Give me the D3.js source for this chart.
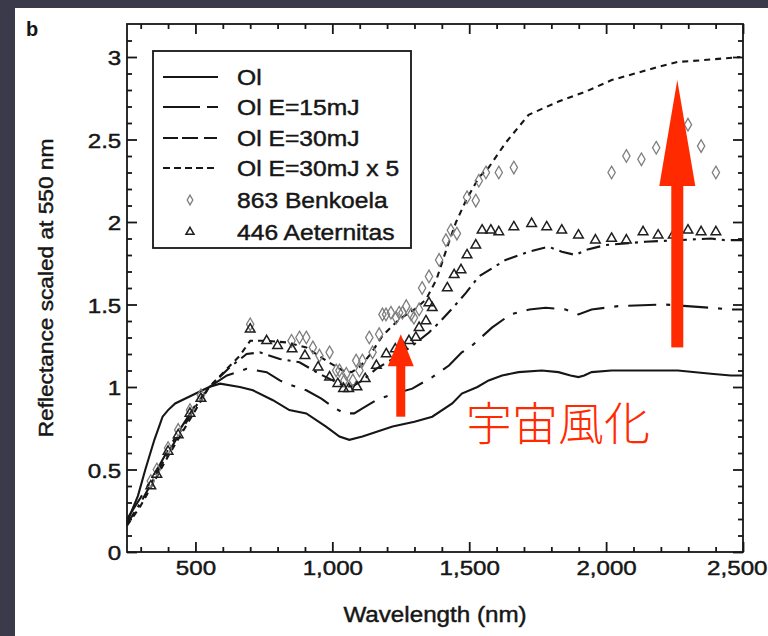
<!DOCTYPE html>
<html><head><meta charset="utf-8">
<script src="https://cdn.jsdelivr.net/npm/d3@7"></script>
<style>html,body{margin:0;padding:0;background:#3b3a4b;}svg{display:block;}</style>
</head><body>
<svg id="chart" width="768" height="636"></svg>
<script>
// ---------------- data ----------------
const xTickValues = [500, 1000, 1500, 2000, 2500];
const yTickValues = [0, 0.5, 1, 1.5, 2, 2.5, 3];
const legendLabels = ["Ol", "Ol E=15mJ", "Ol E=30mJ", "Ol E=30mJ x 5", "863 Benkoela", "446 Aeternitas"];

const olW  = [250,290,317,350,380,400,426,488,550,590,662,710,783,843,905,977,1026,1062,1110,1220,1300,1365,1438,1473,1530,1571,1620,1680,1765,1826,1870,1899,1920,1947,2020,2142,2262,2383,2455,2500];
const olV  = [0.18,0.34,0.50,0.68,0.82,0.86,0.90,0.95,1.00,1.02,1.00,0.98,0.92,0.86,0.84,0.76,0.70,0.68,0.70,0.76,0.79,0.82,0.90,0.96,1.00,1.04,1.07,1.09,1.10,1.09,1.07,1.06,1.07,1.09,1.10,1.10,1.10,1.08,1.07,1.07];

const e15W = [250,300,350,400,450,500,550,615,687,760,808,833,905,960,1001,1044,1080,1110,1160,1208,1292,1365,1426,1473,1510,1583,1651,1720,1779,1852,1899,1947,2044,2215,2383,2455,2500];
const e15V = [0.20,0.33,0.47,0.62,0.76,0.89,1.00,1.07,1.11,1.09,1.04,1.02,0.98,0.93,0.88,0.84,0.84,0.87,0.92,0.95,0.99,1.06,1.13,1.21,1.25,1.36,1.44,1.47,1.48,1.47,1.44,1.47,1.49,1.50,1.48,1.47,1.47];

const e30W = [250,300,350,400,450,500,550,626,687,735,808,880,953,1001,1051,1080,1110,1160,1220,1292,1353,1390,1440,1488,1535,1633,1717,1790,1838,1888,1925,1997,2142,2262,2383,2433,2500];
const e30V = [0.17,0.30,0.45,0.60,0.74,0.88,1.00,1.12,1.20,1.21,1.17,1.15,1.08,1.04,1.00,1.01,1.04,1.11,1.17,1.25,1.33,1.39,1.48,1.57,1.67,1.77,1.82,1.85,1.82,1.80,1.83,1.86,1.88,1.89,1.90,1.89,1.89];

const x5W  = [250,300,350,400,450,500,550,615,662,700,760,833,905,977,1038,1070,1099,1140,1183,1244,1300,1342,1380,1420,1452,1488,1535,1571,1633,1717,1826,1925,2020,2106,2190,2262,2347,2420,2490];
const x5V  = [0.16,0.28,0.43,0.58,0.72,0.86,1.00,1.11,1.19,1.28,1.28,1.27,1.24,1.16,1.10,1.09,1.12,1.20,1.31,1.41,1.47,1.53,1.65,1.85,2.00,2.13,2.27,2.33,2.48,2.65,2.73,2.79,2.86,2.90,2.94,2.97,2.98,2.99,3.00];

const benW = [337,359,400,437,480,520,700,851,880,905,929,953,990,1014,1026,1044,1051,1075,1087,1099,1110,1135,1147,1171,1183,1196,1214,1233,1244,1256,1270,1288,1298,1317,1328,1353,1390,1415,1433,1455,1492,1524,1535,1561,1608,1663,2020,2074,2129,2183,2299,2347,2401];
const benV = [0.43,0.50,0.63,0.74,0.86,0.95,1.38,1.28,1.30,1.30,1.24,1.19,1.21,1.10,1.10,1.04,1.08,1.04,1.16,1.10,1.16,1.30,1.21,1.32,1.44,1.44,1.45,1.42,1.45,1.45,1.49,1.44,1.42,1.47,1.60,1.67,1.77,1.89,1.95,1.93,2.15,2.13,2.25,2.30,2.30,2.33,2.30,2.40,2.38,2.45,2.59,2.46,2.30];

const aetW = [337,359,400,437,480,520,700,760,800,853,900,948,990,1020,1041,1060,1090,1120,1161,1197,1230,1256,1280,1305,1317,1342,1353,1365,1420,1445,1470,1492,1524,1547,1579,1608,1663,1728,1783,1838,1899,1961,2020,2074,2135,2190,2245,2299,2347,2401];
const aetV = [0.40,0.47,0.61,0.71,0.84,0.93,1.35,1.28,1.25,1.23,1.19,1.12,1.06,1.02,0.99,0.99,1.00,1.05,1.13,1.20,1.23,1.25,1.28,1.30,1.36,1.40,1.51,1.48,1.60,1.68,1.71,1.80,1.86,1.95,1.95,1.94,1.97,1.99,1.97,1.95,1.92,1.89,1.90,1.89,1.94,1.92,1.92,1.95,1.94,1.94];

// annotation arrows (wavelength, from value, to value)
const arrowX  = [1250, 2260];
const arrowY0 = [0.82, 1.24];
const arrowY1 = [1.32, 2.86];
const noteText = "宇宙風化";

// ---------------- drawing ----------------
const svg = d3.select("#chart");
const FONT = "'Liberation Sans', Arial, Helvetica, sans-serif";
const INK = "#161616";

svg.append("rect").attr("x",0).attr("y",0).attr("width",768).attr("height",636).attr("fill","#3b3a4b");
svg.append("rect").attr("x",15).attr("y",8).attr("width",753).attr("height",628).attr("fill","#ffffff");

const x = d3.scaleLinear().domain([250, 2500]).range([127, 743]);
const y = d3.scaleLinear().domain([0, 3.2]).range([552, 24]);

const xMinor = d3.range(300, 2500, 100).filter(v => v % 500 !== 0);
const yMinor = d3.range(1, 32).map(v => v / 10).filter(v => Math.round(v * 10) % 5 !== 0);

function styleAxis(g) {
  g.select(".domain").remove();
  g.selectAll(".tick line").attr("stroke", INK).attr("stroke-width", 1.8);
}
function heavy(sel) {
  return sel.attr("stroke", INK).attr("stroke-width", 0.45).attr("paint-order", "stroke");
}
const SX = 1.15;
// bottom
const gb = svg.append("g").attr("transform", "translate(0,552)");
gb.call(d3.axisBottom(x).tickValues(xMinor).tickSize(-5).tickFormat("")).call(styleAxis);
const gbM = svg.append("g").attr("transform", "translate(0,552)");
gbM.call(d3.axisBottom(x).tickValues(xTickValues).tickSize(-10).tickPadding(8).tickFormat(d3.format(","))).call(styleAxis);
gbM.selectAll("text").attr("font-family", FONT).attr("font-size", 21).attr("fill", INK)
   .attr("dy", null).attr("y", 23).attr("transform", `scale(${SX},1)`).call(heavy);
// last label sits at the right edge: anchor it so it stays on the page
gbM.selectAll("text").filter(d => d === 2500).attr("text-anchor", "end").attr("x", (767 - 743) / SX);
// top
svg.append("g").attr("transform", "translate(0,24)")
  .call(d3.axisTop(x).tickValues(xMinor).tickSize(-5).tickFormat("")).call(styleAxis);
svg.append("g").attr("transform", "translate(0,24)")
  .call(d3.axisTop(x).tickValues(xTickValues).tickSize(-10).tickFormat("")).call(styleAxis);
// left
svg.append("g").attr("transform", "translate(127,0)")
  .call(d3.axisLeft(y).tickValues(yMinor).tickSize(-5).tickFormat("")).call(styleAxis);
const glM = svg.append("g").attr("transform", "translate(127,0)");
glM.call(d3.axisLeft(y).tickValues(yTickValues).tickSize(-10).tickPadding(5).tickFormat(d => String(d))).call(styleAxis);
glM.selectAll("text").attr("font-family", FONT).attr("font-size", 21).attr("fill", INK)
   .attr("dy", "0.36em").attr("transform", `scale(${SX},1)`).call(heavy);
// right
svg.append("g").attr("transform", "translate(743,0)")
  .call(d3.axisRight(y).tickValues(yMinor).tickSize(-5).tickFormat("")).call(styleAxis);
svg.append("g").attr("transform", "translate(743,0)")
  .call(d3.axisRight(y).tickValues(yTickValues).tickSize(-10).tickFormat("")).call(styleAxis);

// frame
svg.append("rect").attr("x", 127).attr("y", 24).attr("width", 616).attr("height", 528)
  .attr("fill", "none").attr("stroke", INK).attr("stroke-width", 1.8);

// lines
const lineGen = d3.line().x(d => x(d[0])).y(d => y(d[1]));
const series = [
  {w: olW,  v: olV,  dash: null},
  {w: e15W, v: e15V, dash: "28,10,4,10"},
  {w: e30W, v: e30V, dash: "14,6,3,6"},
  {w: x5W,  v: x5V,  dash: "6,5"}
];
series.forEach(s => {
  svg.append("path").datum(d3.zip(s.w, s.v)).attr("d", lineGen)
    .attr("fill", "none").attr("stroke", INK).attr("stroke-width", 2.1)
    .attr("stroke-dasharray", s.dash);
});

// markers
const diamond = d3.symbol().type(d3.symbolDiamond).size(46);
const triangle = d3.symbol().type(d3.symbolTriangle).size(40);
svg.append("g").selectAll("path").data(d3.zip(benW, benV)).join("path")
  .attr("d", diamond).attr("transform", d => `translate(${x(d[0])},${y(d[1])})`)
  .attr("fill", "none").attr("stroke", "#7e7e7e").attr("stroke-width", 1.3);
svg.append("g").selectAll("path").data(d3.zip(aetW, aetV)).join("path")
  .attr("d", triangle).attr("transform", d => `translate(${x(d[0])},${y(d[1])})`)
  .attr("fill", "none").attr("stroke", "#1e1e1e").attr("stroke-width", 1.5);

// legend
const lg = svg.append("g");
lg.append("rect").attr("x", 153).attr("y", 51).attr("width", 258).attr("height", 197)
  .attr("fill", "#fff").attr("stroke", INK).attr("stroke-width", 1.8);
const legendDash = [null, "37,7,12,200", "15,4,16,6,13,200", "7,4"];
const rowY = [77, 107, 138, 168, 200, 232];
legendLabels.forEach((lab, i) => {
  const yy = rowY[i];
  if (i < 4) {
    lg.append("line").attr("x1", 163).attr("x2", 218).attr("y1", yy).attr("y2", yy)
      .attr("stroke", INK).attr("stroke-width", 2.1).attr("stroke-dasharray", legendDash[i]);
  } else if (i === 4) {
    lg.append("path").attr("d", d3.symbol().type(d3.symbolDiamond).size(28)())
      .attr("transform", `translate(190,${yy})`).attr("fill", "none").attr("stroke", "#7e7e7e").attr("stroke-width", 1.3);
  } else {
    lg.append("path").attr("d", d3.symbol().type(d3.symbolTriangle).size(28)())
      .attr("transform", `translate(190,${yy})`).attr("fill", "none").attr("stroke", "#1e1e1e").attr("stroke-width", 1.5);
  }
  lg.append("text").attr("transform", `translate(237,${yy + 8}) scale(1.12,1)`)
    .attr("font-family", FONT).attr("font-size", 22).attr("fill", INK).text(lab).call(heavy);
});

// axis titles
svg.append("text").attr("transform", `translate(${(127 + 743) / 2},622) scale(1.1,1)`)
  .attr("text-anchor", "middle").attr("font-family", FONT).attr("font-size", 22).attr("fill", INK)
  .text("Wavelength (nm)").call(heavy);
svg.append("text").attr("transform", `translate(53,${y(1.6)}) rotate(-90) scale(1.08,1)`)
  .attr("text-anchor", "middle").attr("font-family", FONT).attr("font-size", 21).attr("fill", INK)
  .text("Reflectance scaled at 550 nm").call(heavy);
svg.append("text").attr("x", 26).attr("y", 36).attr("font-family", FONT).attr("font-weight", "bold")
  .attr("font-size", 20).attr("fill", INK).text("b");

// arrows
const RED = "#ff2a00";
const shaftW = [9, 12], headW = [26, 36], headH = [32, 106];
arrowX.forEach((w, i) => {
  const cx = x(w), yb = y(arrowY0[i]), yt = y(arrowY1[i]);
  const hb = yt + headH[i];
  svg.append("rect").attr("x", cx - shaftW[i] / 2).attr("y", hb - 1).attr("width", shaftW[i]).attr("height", yb - hb + 1).attr("fill", RED);
  svg.append("path").attr("d", `M${cx - headW[i] / 2},${hb}L${cx + headW[i] / 2},${hb}L${cx},${yt}Z`).attr("fill", RED);
});
svg.append("text").attr("x", 466).attr("y", 440)
  .attr("font-family", "'Noto Sans CJK JP','Noto Sans CJK SC',sans-serif").attr("font-size", 46)
  .attr("font-weight", 300).attr("fill", RED).text(noteText);
</script>
</body></html>
